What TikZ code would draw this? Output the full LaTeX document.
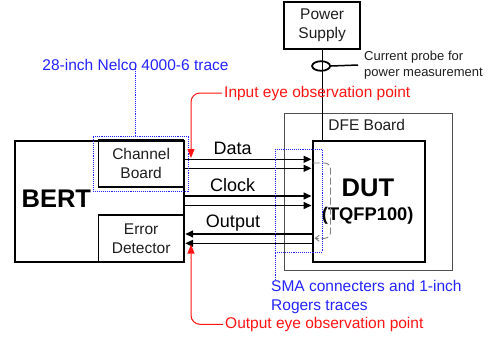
\documentclass[tikz,border=0pt]{standalone}
\usepackage{fontspec}
\setmainfont{Liberation Sans}
\usetikzlibrary{arrows.meta,shapes.geometric}
\definecolor{myblue}{RGB}{35,35,255}
\definecolor{myred}{RGB}{255,20,20}
\definecolor{dfegray}{RGB}{80,80,80}
\definecolor{txtgray}{RGB}{30,30,30}
\tikzset{
  heavybox/.style={draw=black, line width=2.2pt, rectangle, inner sep=0pt, anchor=north west},
  innerbox/.style={draw=black, line width=1.3pt, rectangle, inner sep=0pt, anchor=north west, align=center, text=txtgray, font=\fontsize{15.5}{19}\selectfont},
  normtext/.style={inner sep=0pt, text=txtgray, font=\fontsize{15.5}{19}\selectfont},
  sigtext/.style={inner sep=0pt, text=black, font=\fontsize{18}{21}\selectfont},
  bigtext/.style={inner sep=0pt, text=black, font=\fontsize{25.5}{30}\selectfont\bfseries},
  sig/.style={draw=black, line width=1.5pt},
  tipr/.style={-{Triangle[length=8pt,width=7pt]}},
  tipl/.style={{Triangle[length=8pt,width=7pt]}-},
  bluebox/.style={draw=myblue, densely dotted, line width=0.9pt, rectangle, inner sep=0pt, anchor=north west},
  bluetext/.style={inner sep=0pt, text=myblue, font=\fontsize{15.5}{19}\selectfont},
  redtext/.style={inner sep=2pt, text=myred, font=\fontsize{15.5}{19}\selectfont},
  redarrow/.style={draw=myred, line width=1pt, rounded corners=9pt, -{Triangle[length=9pt,width=7pt]}},
}
\begin{document}
\begin{tikzpicture}[x=1pt,y=-1pt]
\useasboundingbox (0,0) rectangle (492,340);

% DFE board
\node[draw=dfegray, line width=1pt, rectangle, inner sep=0pt, anchor=north west,
      minimum width=167.7pt, minimum height=157.3pt] (dfe) at (284.3,112.7) {};
\node[normtext, anchor=center] (dfelabel) at (366.7,125) {DFE Board};

% BERT
\node[heavybox, minimum width=169pt, minimum height=121pt] (bert) at (14,140) {};
\node[bigtext] (bertlabel) at (56.3,198.5) {BERT};
\node[innerbox, minimum width=85pt, minimum height=47pt] (channel) at (98,139.3) {Channel\\Board};
\node[innerbox, minimum width=85pt, minimum height=47pt] (errdet) at (98,214.3) {Error\\Detector};

% DUT
\node[heavybox, minimum width=112.5pt, minimum height=121pt] (dut) at (311.5,140) {};
\node[bigtext] (dutlabel) at (367.9,188) {DUT};
\node[inner sep=0pt, font=\fontsize{18.3}{22}\selectfont\bfseries] (tqfp) at (367.7,216) {(TQFP100)};

% Power supply
\node[heavybox, line width=2pt, minimum width=75.7pt, minimum height=46.7pt, align=center,
      text=txtgray, font=\fontsize{15.5}{18.7}\selectfont] (psu) at (283.3,1) {Power\\Supply};
\draw[line width=1.3pt] (psu.south) -- (psu.south |- dut.north);
\node[draw=black, line width=1.8pt, ellipse, inner sep=0pt, minimum width=18pt, minimum height=9.5pt] (probe) at (321.1,66) {};
\node[inner sep=0pt, anchor=west, align=left, text=txtgray, font=\fontsize{13}{16}\selectfont] (probelabel) at (364,65) {Current probe for\\power measurement};
\draw[line width=1.5pt] (probe.east) -- ([xshift=-6pt]probelabel.west);

% Signal lines
\draw[sig, tipr] (bert.east |- 0,159.3) -- (dut.west |- 0,159.3);
\draw[sig, tipr] (bert.east |- 0,168.3) -- (dut.west |- 0,168.3);
\draw[sig, tipr] (bert.east |- 0,196) -- (dut.west |- 0,196);
\draw[sig, tipr] (bert.east |- 0,205.5) -- (dut.west |- 0,205.5);
\draw[sig, tipl] (bert.east |- 0,234) -- (dut.west |- 0,234);
\draw[sig, tipl] (bert.east |- 0,243.3) -- (dut.west |- 0,243.3);
\node[sigtext] (datalabel) at (232.7,148.3) {Data};
\node[sigtext] (clocklabel) at (232.7,185) {Clock};
\node[sigtext] (outputlabel) at (233,222.7) {Output};

% internal loop-back in DUT
\coordinate (loopa) at (312.5,163);
\coordinate (loopb) at (330.5,163);
\coordinate (loopc) at (330.5,238.3);
\coordinate (loopd) at (314.5,238.3);
\draw[draw=gray, line width=0.9pt, dash pattern=on 7pt off 3pt, rounded corners=6pt,
      -{Straight Barb[length=4pt,width=6pt]}] (loopa) -- (loopb) -- (loopc) -- (loopd);

% blue annotations
\node[bluebox, minimum width=95pt, minimum height=55.5pt] (trace1) at (93,135.5) {};
\node[bluetext] (trace1label) at (135.5,65) {28-inch Nelco 4000-6 trace};
\draw[draw=myblue, densely dotted, line width=0.9pt] ([yshift=2pt]trace1label.south) -- (trace1label.south |- trace1.north);

\node[bluebox, minimum width=46.7pt, minimum height=102.7pt] (trace2) at (275,149) {};
\node[bluetext, anchor=north west, align=left] (trace2label) at (271,280) {SMA connecters and 1-inch\\Rogers traces};
\draw[draw=myblue, densely dotted, line width=0.9pt] (trace2.south west) -- ([yshift=-1pt]trace2.south west |- trace2label.north);

% red observation points
\node[redtext, anchor=west] (inlabel) at (222,93) {Input eye observation point};
\coordinate (inpt) at (191,158);
\draw[redarrow] (inlabel.west) -- (inlabel.west -| inpt) -- (inpt);

\node[redtext, anchor=west] (outlabel) at (223,324.3) {Output eye observation point};
\coordinate (outpt) at (191,244.5);
\draw[redarrow] (outlabel.west) -- (outlabel.west -| outpt) -- (outpt);
\end{tikzpicture}
\end{document}
